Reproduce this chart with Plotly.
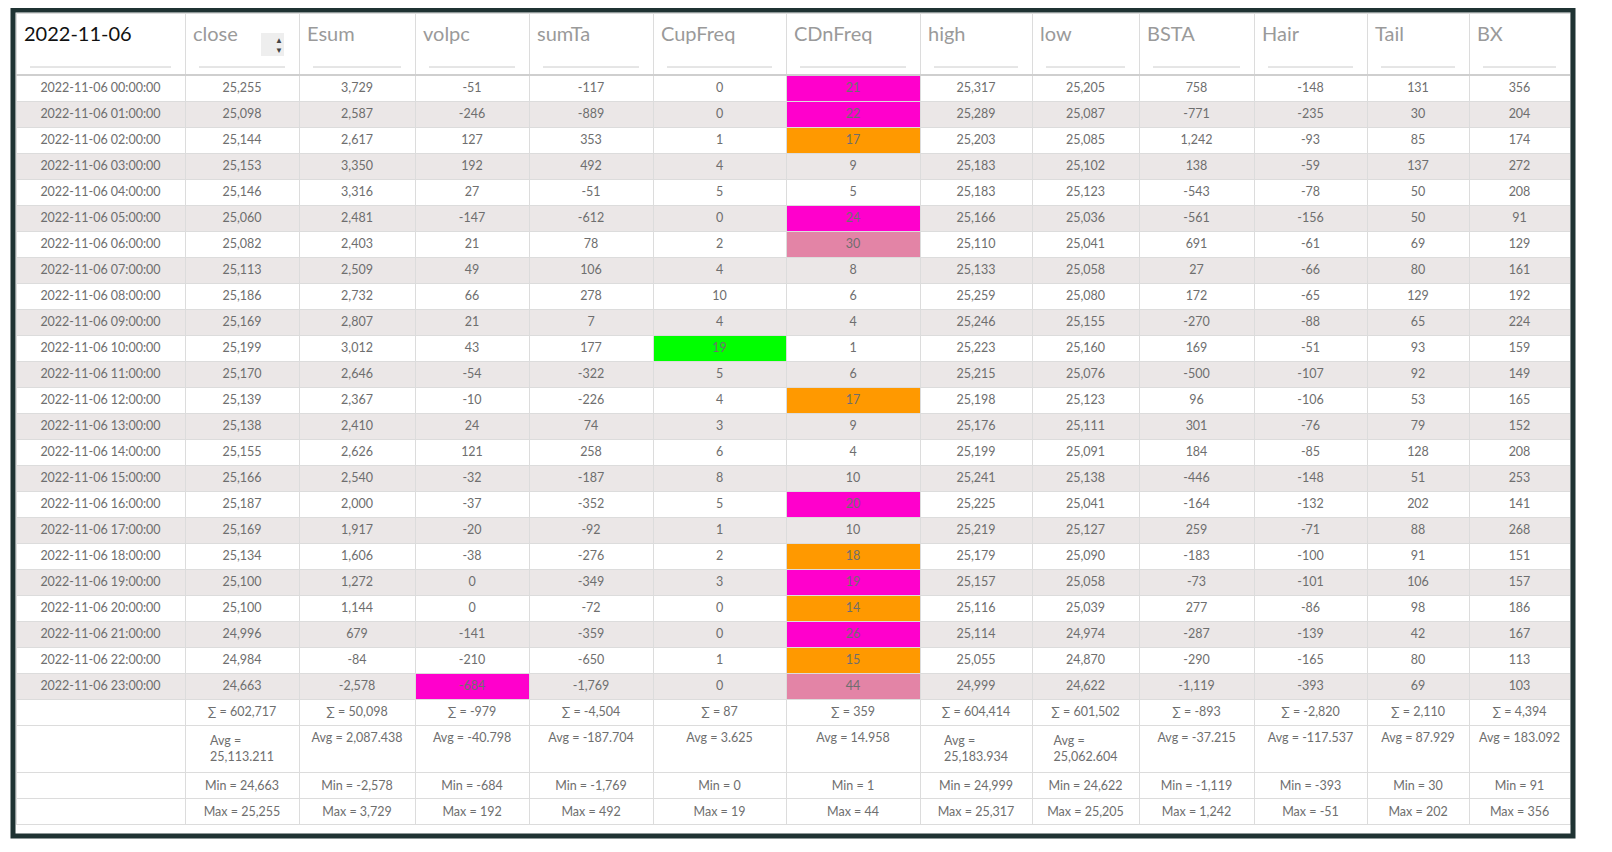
import plotly.graph_objects as go

times = [f"2022-11-06 {h:02d}:00:00" for h in range(24)]
columns = ["close","Esum","volpc","sumTa","CupFreq","CDnFreq","high","low","BSTA","Hair","Tail","BX"]
close = [25255,25098,25144,25153,25146,25060,25082,25113,25186,25169,25199,25170,25139,25138,25155,25166,25187,25169,25134,25100,25100,24996,24984,24663]
esum = [3729,2587,2617,3350,3316,2481,2403,2509,2732,2807,3012,2646,2367,2410,2626,2540,2000,1917,1606,1272,1144,679,-84,-2578]
volpc = [-51,-246,127,192,27,-147,21,49,66,21,43,-54,-10,24,121,-32,-37,-20,-38,0,0,-141,-210,-684]
sumta = [-117,-889,353,492,-51,-612,78,106,278,7,177,-322,-226,74,258,-187,-352,-92,-276,-349,-72,-359,-650,-1769]
cupfreq = [0,0,1,4,5,0,2,4,10,4,19,5,4,3,6,8,5,1,2,3,0,0,1,0]
cdnfreq = [21,22,17,9,5,24,30,8,6,4,1,6,17,9,4,10,20,10,18,19,14,26,15,44]
high = [25317,25289,25203,25183,25183,25166,25110,25133,25259,25246,25223,25215,25198,25176,25199,25241,25225,25219,25179,25157,25116,25114,25055,24999]
low = [25205,25087,25085,25102,25123,25036,25041,25058,25080,25155,25160,25076,25123,25111,25091,25138,25041,25127,25090,25058,25039,24974,24870,24622]
bsta = [758,-771,1242,138,-543,-561,691,27,172,-270,169,-500,96,301,184,-446,-164,259,-183,-73,277,-287,-290,-1119]
hair = [-148,-235,-93,-59,-78,-156,-61,-66,-65,-88,-51,-107,-106,-76,-85,-148,-132,-71,-100,-101,-86,-139,-165,-393]
tail = [131,30,85,137,50,50,69,80,129,65,93,92,53,79,128,51,202,88,91,106,98,42,80,69]
bx = [356,204,174,272,208,91,129,161,192,224,159,149,165,152,208,253,141,268,151,157,186,167,113,103]

sum_row = ["602,717","50,098","-979","-4,504","87","359","604,414","601,502","-893","-2,820","2,110","4,394"]
avg_row = ["25,113.211","2,087.438","-40.798","-187.704","3.625","14.958","25,183.934","25,062.604","-37.215","-117.537","87.929","183.092"]
min_row = ["24,663","-2,578","-684","-1,769","0","1","24,999","24,622","-1,119","-393","30","91"]
max_row = ["25,255","3,729","192","492","19","44","25,317","25,205","1,242","-51","202","356"]

data = [close,esum,volpc,sumta,cupfreq,cdnfreq,high,low,bsta,hair,tail,bx]
n = len(times)
STRIPE = ["#ffffff", "#ebe7e7"]

def fmt(v):
    return f"{v:,}"

def cell_color(col, v, i):
    if col == "CDnFreq":
        if v >= 28: return "#e384a6"
        if v >= 19: return "#ff00cc"
        if v >= 14: return "#ff9900"
    if col == "CupFreq" and v >= 19: return "#00ff00"
    if col == "volpc" and v <= -500: return "#ff00cc"
    return STRIPE[i % 2]

footer_n = 4
cells_vals = [times + ["", "", "", ""]]
cells_fill = [[STRIPE[i % 2] for i in range(n)] + ["#ffffff"] * footer_n]
for j, (name, vals) in enumerate(zip(columns, data)):
    a = avg_row[j]
    atxt = f"Avg =<br>{a}" if len(a) > 9 else f"Avg = {a}"
    cells_vals.append([fmt(v) for v in vals] + [f"∑ = {sum_row[j]}", atxt, f"Min = {min_row[j]}", f"Max = {max_row[j]}"])
    cells_fill.append([cell_color(name, v, i) for i, v in enumerate(vals)] + ["#ffffff"] * footer_n)

px_widths = [169,114,116,114,124,133,134,112,107,115,113,102,101]
header_vals = ["<br>" + h for h in ["2022-11-06"] + columns]
header_font_colors = ["#111111"] + ["#9a9a9a"] * len(columns)

L, R, T, B = 8, 1562, 5, 825
W, H = 1612, 852
fig = go.Figure(go.Table(
    columnwidth=px_widths,
    header=dict(values=header_vals, height=62, align="left",
                fill_color="#ffffff",
                line=dict(color="#dcdcdc", width=1),
                font=dict(family="Lato", size=20, color=header_font_colors)),
    cells=dict(values=cells_vals, height=26, align="center",
               fill_color=cells_fill,
               line=dict(color="#dcdcdc", width=1),
               font=dict(family="Lato", size=12.5, color="#6e6e6e")),
))

def xp(px): return (px - L) / (R - L)
def yp(py): return 1 - (py - T) / (B - T)

shapes = []
x = L
for w in px_widths:
    shapes.append(dict(type="line", xref="paper", yref="paper", x0=xp(x + 14), x1=xp(x + w - 14),
                       y0=yp(59), y1=yp(59), line=dict(color="#cccccc", width=1)))
    x += w
shapes.append(dict(type="line", xref="paper", yref="paper", x0=0, x1=1, y0=yp(67), y1=yp(67),
                   line=dict(color="#cfcfcf", width=2)))
shapes.append(dict(type="rect", xref="paper", yref="paper", x0=xp(5), x1=xp(1565), y0=yp(828), y1=yp(2),
                   line=dict(color="#1f3333", width=5)))
shapes.append(dict(type="rect", xref="paper", yref="paper", x0=xp(253), x1=xp(276), y0=yp(48), y1=yp(25),
                   fillcolor="#eeeeee", line=dict(width=0)))

fig.update_layout(
    width=W, height=H, paper_bgcolor="#ffffff",
    margin=dict(l=L, r=W - R, t=T, b=H - B),
    shapes=shapes,
    annotations=[dict(xref="paper", yref="paper", x=xp(264.5), y=yp(36.5), text="▲<br>▼", showarrow=False,
                      font=dict(size=8, color="#444444"), align="center", yanchor="middle")],
)
fig.write_html("out.html")
